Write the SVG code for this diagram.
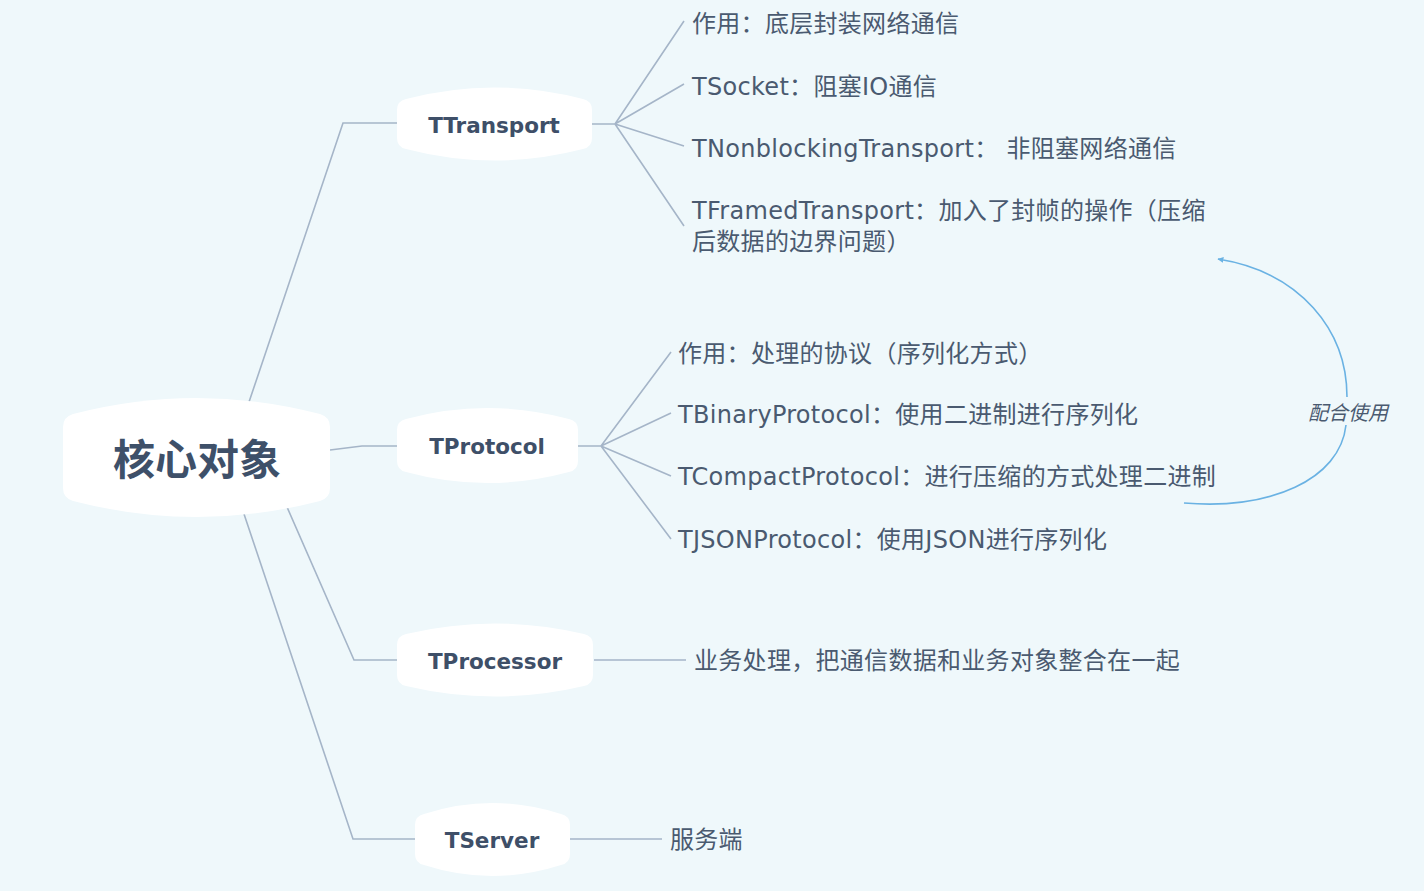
<svg xmlns="http://www.w3.org/2000/svg" width="1424" height="891" viewBox="0 0 1424 891">
<defs>
<style>
.bg{fill:#eff8fb}
.node{fill:#ffffff}
.conn{fill:none;stroke:#a5b5c8;stroke-width:1.6}
.rel{fill:none;stroke:#6ab2e3;stroke-width:1.6}
.ntext{font-family:"DejaVu Sans","Noto Sans CJK SC",sans-serif;font-weight:700;font-size:21.5px;fill:#3e4f68;text-anchor:middle;dominant-baseline:central}
.main{font-family:"Noto Sans CJK SC",sans-serif;font-weight:700;font-size:42px;fill:#3e5069;text-anchor:middle;dominant-baseline:central}
.leaf{font-family:"DejaVu Sans","Noto Sans CJK SC",sans-serif;font-size:24px;letter-spacing:0.3px;fill:#4a5a70;dominant-baseline:central}
.lbl{font-family:"Noto Sans CJK SC",sans-serif;font-style:italic;font-size:20px;fill:#4a5a70;text-anchor:middle;dominant-baseline:central}
</style>
<marker id="arr" viewBox="0 0 10 10" refX="9" refY="5" markerWidth="6" markerHeight="6" orient="auto-start-reverse" markerUnits="userSpaceOnUse">
<path d="M0,0 L10,5 L0,10 Z" fill="#6ab2e3"/>
</marker>
</defs>
<rect class="bg" x="0" y="0" width="1424" height="891"/>

<g id="connectors">
<polyline class="conn" points="249,402 343,123 397,123"/>
<polyline class="conn" points="330,450 362,446 397,446"/>
<polyline class="conn" points="287,507 354,660 397,660"/>
<polyline class="conn" points="244,514 353,839 415,839"/>
<path class="conn" d="M592,124 L615,124 M615,124 L684,21 M615,124 L684,84 M615,124 L684,146 M615,124 L684,226"/>
<path class="conn" d="M578,446 L601,446 M601,446 L671,352 M601,446 L671,413 M601,446 L671,476 M601,446 L671,539"/>
<path class="conn" d="M594,660 L686,660"/>
<path class="conn" d="M570,839 L662,839"/>
<path class="rel" d="M1184,503 C1270,510 1340,480 1346,425 M1347,397 C1347,330 1300,272 1218,259" marker-end="url(#arr)"/>
<text class="lbl" x="1348" y="411">配合使用</text>
</g>

<g id="node-core">
<path class="node" d="M73,414 Q197,382 320,414 Q330,417 330,427 L330,488 Q330,498 320,501 Q197,533 73,501 Q63,498 63,488 L63,427 Q63,417 73,414 Z"/>
<text class="main" x="197" y="456">核心对象</text>
</g>

<g id="node-ttransport">
<path class="node" d="M406,99 Q494,76 583,99 Q592,101 592,110 L592,138 Q592,147 583,149 Q494,172 406,149 Q397,147 397,138 L397,110 Q397,101 406,99 Z"/>
<text class="ntext" x="494" y="125">TTransport</text>
</g>

<g id="node-tprotocol">
<path class="node" d="M406,419 Q487,397 569,419 Q578,421 578,430 L578,461 Q578,470 569,472 Q487,494 406,472 Q397,470 397,461 L397,430 Q397,421 406,419 Z"/>
<text class="ntext" x="487" y="446">TProtocol</text>
</g>

<g id="node-tprocessor">
<path class="node" d="M406,634 Q495,613 584,634 Q593,636 593,645 L593,675 Q593,684 584,686 Q495,707 406,686 Q397,684 397,675 L397,645 Q397,636 406,634 Z"/>
<text class="ntext" x="495" y="661">TProcessor</text>
</g>

<g id="node-tserver">
<path class="node" d="M424,814 Q492,792 561,814 Q570,816 570,825 L570,854 Q570,863 561,865 Q492,887 424,865 Q415,863 415,854 L415,825 Q415,816 424,814 Z"/>
<text class="ntext" x="492" y="840">TServer</text>
</g>

<g id="leaves-ttransport">
<text class="leaf" x="692" y="24">作用：底层封装网络通信</text>
<text class="leaf" x="692" y="87">TSocket：阻塞IO通信</text>
<text class="leaf" x="692" y="149">TNonblockingTransport： 非阻塞网络通信</text>
<text class="leaf" x="692" y="211">TFramedTransport：加入了封帧的操作（压缩</text>
<text class="leaf" x="692" y="242">后数据的边界问题）</text>
</g>

<g id="leaves-tprotocol">
<text class="leaf" x="678" y="354">作用：处理的协议（序列化方式）</text>
<text class="leaf" x="678" y="415">TBinaryProtocol：使用二进制进行序列化</text>
<text class="leaf" x="678" y="477">TCompactProtocol：进行压缩的方式处理二进制</text>
<text class="leaf" x="678" y="540">TJSONProtocol：使用JSON进行序列化</text>
</g>

<g id="leaf-tprocessor">
<text class="leaf" x="694" y="661">业务处理，把通信数据和业务对象整合在一起</text>
</g>

<g id="leaf-tserver">
<text class="leaf" x="670" y="840">服务端</text>
</g>
</svg>
